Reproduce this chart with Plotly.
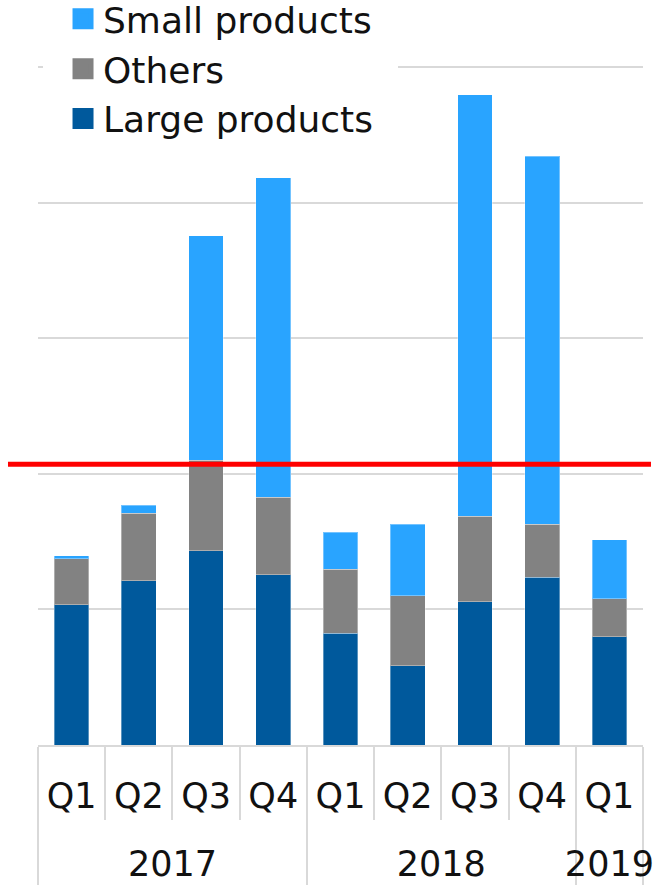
import plotly.graph_objects as go

# ---- data (one gridline = 10 units) ----
years = ["2017", "2017", "2017", "2017", "2018", "2018", "2018", "2018", "2019"]
quarters = ["Q1", "Q2", "Q3", "Q4", "Q1", "Q2", "Q3", "Q4", "Q1"]

large_products = [10.35, 12.12, 14.31, 12.54, 8.24, 5.85, 10.57, 12.37, 7.99]
others = [3.39, 4.97, 6.69, 5.73, 4.72, 5.14, 6.30, 3.91, 2.78]
small_products = [0.20, 0.59, 16.54, 23.57, 2.73, 5.29, 31.07, 27.13, 4.35]

threshold = 20.7
y_top = 54.94  # axis range top (top gridline = 50)

# ---- styles ----
C_SMALL = "#29A4FF"
C_OTHERS = "#828282"
C_LARGE = "#00599C"
GRID = "#D9D9D9"
FONT = "DejaVu Sans"
TEXT = "#111111"

# quarter labels padded with large invisible (non-breaking) spaces so the year row sits lower
pad = "<span style='font-size:73px'>\u00a0</span>"
quarter_labels = [pad + q + pad for q in quarters]
x = [years, quarter_labels]

fig = go.Figure()
edge = dict(color="rgba(255,255,255,0.35)", width=1)
fig.add_trace(go.Bar(x=x, y=large_products, name="Large products",
                     marker=dict(color=C_LARGE, line=edge), showlegend=False))
fig.add_trace(go.Bar(x=x, y=others, name="Others",
                     marker=dict(color=C_OTHERS, line=edge), showlegend=False))
fig.add_trace(go.Bar(x=x, y=small_products, name="Small products",
                     marker=dict(color=C_SMALL, line=edge), showlegend=False))

# legend entries (square swatches)
for name, col in [("Small products", C_SMALL), ("Others", C_OTHERS), ("Large products", C_LARGE)]:
    fig.add_trace(go.Scatter(x=[[years[0]], [quarter_labels[0]]], y=[None], mode="markers", name=name,
                             marker=dict(symbol="square", size=22, color=col,
                                         line=dict(color=col, width=5)),
                             showlegend=True, hoverinfo="skip"))

fig.add_shape(type="line", xref="paper", yref="y",
              x0=-0.0496, x1=1.0132, y0=threshold, y1=threshold,
              line=dict(color="#FF0000", width=5), layer="above")

fig.update_layout(
    width=659, height=891, autosize=False,
    margin=dict(l=38, r=16, t=0, b=146, pad=0, autoexpand=False),
    barmode="stack", bargap=0.484,
    paper_bgcolor="white", plot_bgcolor="white",
    font=dict(family=FONT, color=TEXT, size=35),
    legend=dict(x=0.0083, y=1.0417, xanchor="left", yanchor="top",
                bgcolor="white", bordercolor="white", borderwidth=20,
                traceorder="normal",
                font=dict(family=FONT, size=36, color=TEXT),
                itemsizing="trace"),
    xaxis=dict(range=[-0.5, len(quarters) - 0.5],
               showline=True, linecolor=GRID, linewidth=1.5,
               ticks="outside", tickson="boundaries", ticklen=73,
               tickcolor=GRID, tickwidth=1.5, tickangle=0,
               ticklabelstandoff=19,
               showdividers=True, dividercolor=GRID, dividerwidth=1.5,
               tickfont=dict(family=FONT, size=35, color=TEXT),
               showgrid=False),
    yaxis=dict(range=[0, y_top], dtick=10, showticklabels=False,
               showgrid=True, gridcolor=GRID, gridwidth=1.5,
               zeroline=False, showline=False, ticks=""),
)

fig.write_html("out.html", config={"displayModeBar": False},
               post_script="document.body.style.margin='0';document.body.style.overflow='hidden';")
